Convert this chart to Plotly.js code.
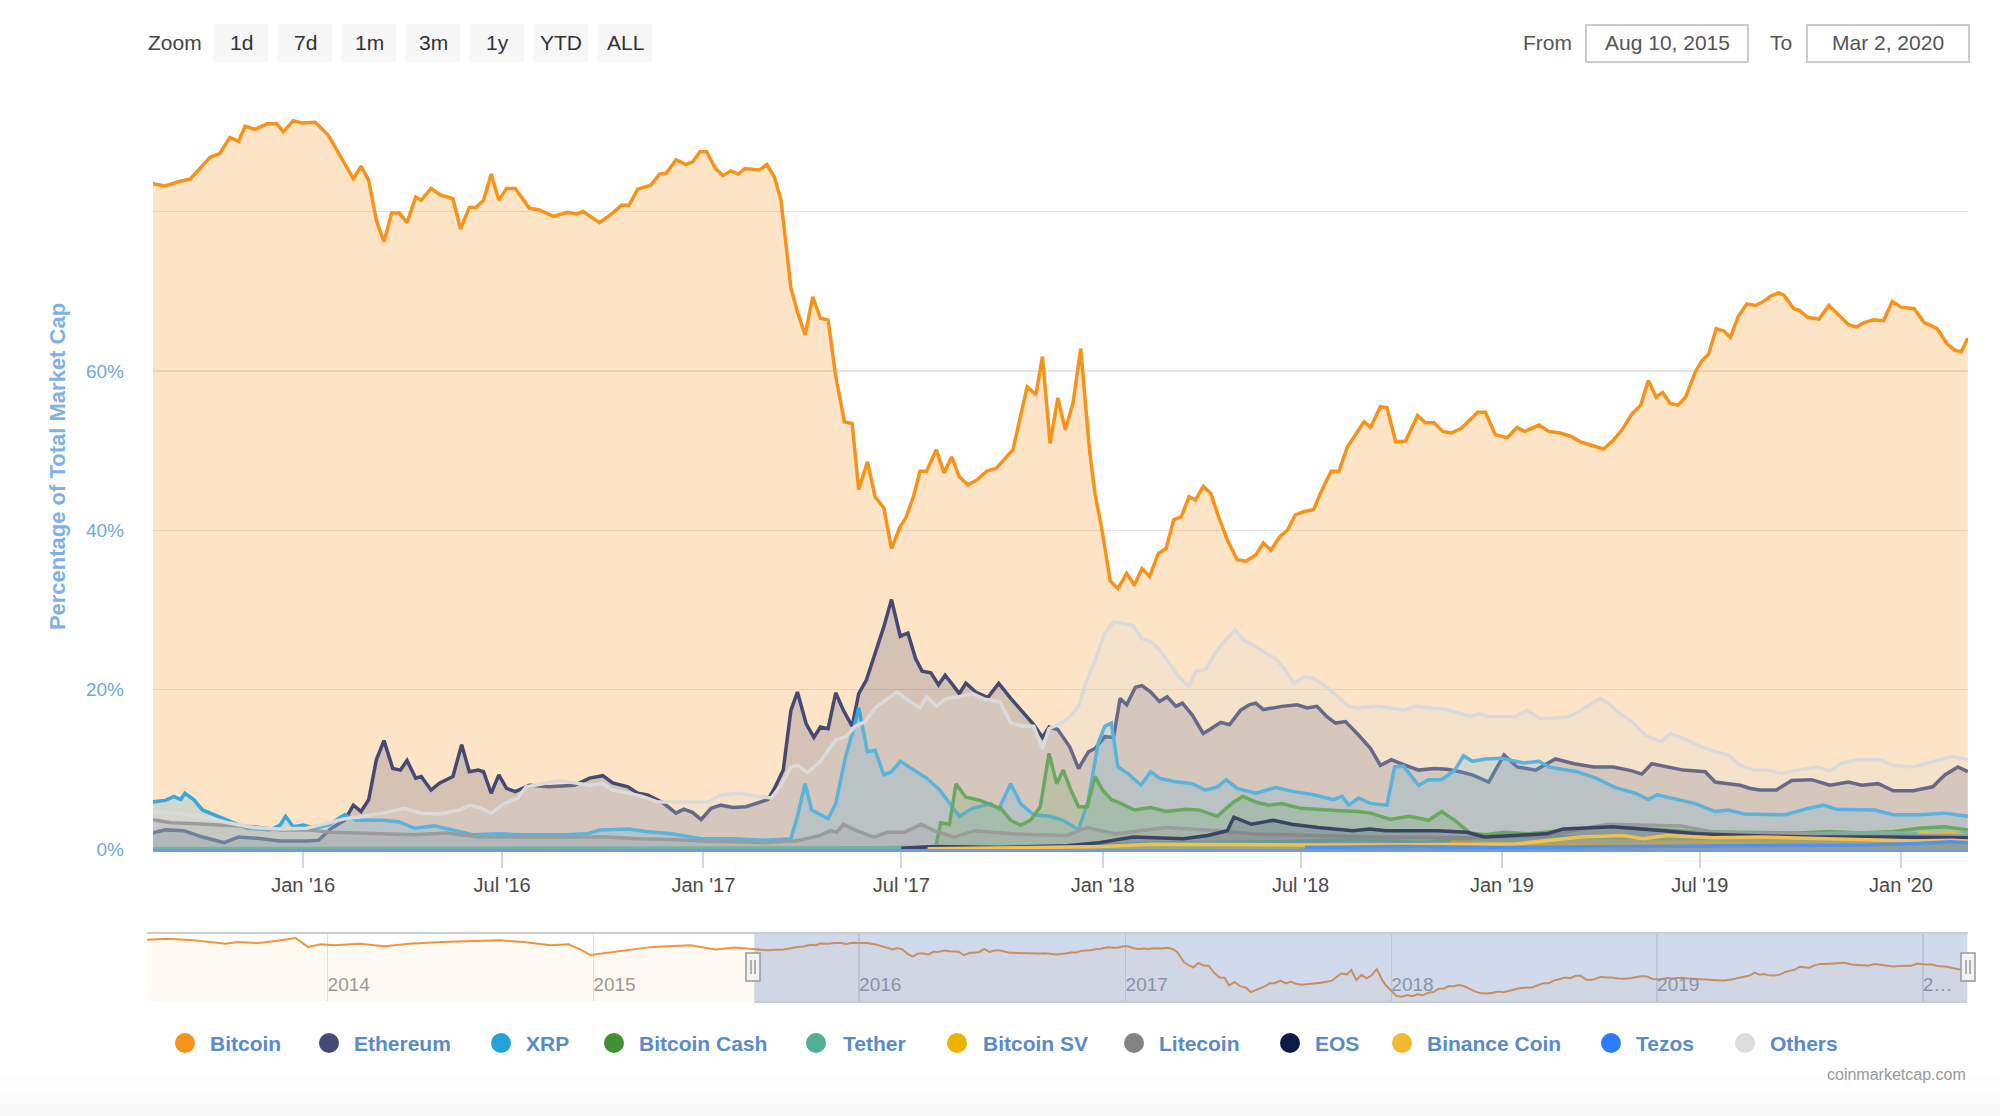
<!DOCTYPE html>
<html>
<head>
<meta charset="utf-8">
<script src="https://cdn.plot.ly/plotly-3.0.1.min.js"></script>
<style>
html,body{margin:0;padding:0;background:#ffffff;}
#chart{width:2000px;height:1116px;}
</style>
</head>
<body>
<div id="chart"></div>
<script>
// ---------------- DATA (percent of total market cap) ----------------
const seriesNames = ['Bitcoin','Ethereum','XRP','Bitcoin Cash','Tether','Bitcoin SV','Litecoin','EOS','Binance Coin','Tezos','Others'];

const btcDates = ['2015-08-16','2015-08-28','2015-09-08','2015-09-20','2015-10-08','2015-10-17','2015-10-26','2015-11-03','2015-11-09','2015-11-18','2015-11-29','2015-12-08','2015-12-14','2015-12-23','2015-12-31',
'2016-01-12','2016-01-24','2016-02-05','2016-02-16','2016-02-23','2016-03-01','2016-03-08','2016-03-15','2016-03-22','2016-03-29','2016-04-05','2016-04-13','2016-04-18','2016-04-27','2016-05-05','2016-05-17','2016-05-24','2016-06-01','2016-06-07','2016-06-14','2016-06-21','2016-06-28','2016-07-05','2016-07-13','2016-07-26','2016-08-04','2016-08-17','2016-08-30','2016-09-07','2016-09-13','2016-09-28','2016-10-10','2016-10-18','2016-10-25','2016-11-02','2016-11-14','2016-11-22','2016-11-28','2016-12-07','2016-12-16','2016-12-22','2016-12-29',
'2017-01-04','2017-01-12','2017-01-19','2017-01-26','2017-02-02','2017-02-08','2017-02-21','2017-02-28','2017-03-07','2017-03-13','2017-03-22','2017-03-28','2017-04-04','2017-04-11','2017-04-18','2017-04-25','2017-05-02','2017-05-10','2017-05-17','2017-05-23','2017-05-31','2017-06-07','2017-06-15','2017-06-22','2017-06-30','2017-07-05','2017-07-12','2017-07-18','2017-07-24','2017-08-02','2017-08-09','2017-08-16','2017-08-23','2017-08-31','2017-09-08','2017-09-17','2017-09-26','2017-10-11','2017-10-24','2017-11-01','2017-11-07','2017-11-14','2017-11-21','2017-11-28','2017-12-05','2017-12-12','2017-12-20','2017-12-25',
'2018-01-01','2018-01-08','2018-01-15','2018-01-23','2018-01-30','2018-02-06','2018-02-13','2018-02-21','2018-02-28','2018-03-07','2018-03-14','2018-03-21','2018-03-27','2018-04-03','2018-04-10','2018-04-17','2018-04-25','2018-05-04','2018-05-12','2018-05-21','2018-05-28','2018-06-04','2018-06-12','2018-06-19','2018-06-26','2018-07-03','2018-07-13','2018-07-20','2018-07-29','2018-08-05','2018-08-13','2018-08-19','2018-08-28','2018-09-03','2018-09-12','2018-09-18','2018-09-26','2018-10-05','2018-10-16','2018-10-23','2018-10-31','2018-11-08','2018-11-16','2018-11-25','2018-12-02','2018-12-10','2018-12-17','2018-12-26',
'2019-01-06','2019-01-15','2019-01-22','2019-02-04','2019-02-13','2019-02-23','2019-03-05','2019-03-14','2019-03-23','2019-04-04','2019-04-13','2019-04-21','2019-04-30','2019-05-08','2019-05-15','2019-05-22','2019-05-28','2019-06-04','2019-06-11','2019-06-18','2019-06-27','2019-07-03','2019-07-09','2019-07-16','2019-07-23','2019-07-29','2019-08-05','2019-08-13','2019-08-21','2019-08-28','2019-09-04','2019-09-11','2019-09-16','2019-09-25','2019-09-30','2019-10-08','2019-10-18','2019-10-27','2019-11-05','2019-11-14','2019-11-21','2019-11-29','2019-12-07','2019-12-16','2019-12-24',
'2020-01-01','2020-01-13','2020-01-22','2020-02-03','2020-02-12','2020-02-19','2020-02-25','2020-03-02'];
const btcValues = [83.5,83.2,83.7,84.1,86.8,87.3,89.3,88.8,90.7,90.3,91.0,91.0,90.0,91.4,91.1,
91.2,89.6,86.8,84.1,85.7,83.9,78.9,76.2,79.8,79.8,78.6,81.8,81.4,82.9,82.1,81.6,77.8,80.5,80.5,81.4,84.7,81.4,82.9,82.9,80.4,80.2,79.4,79.9,79.7,80.0,78.6,79.8,80.8,80.8,82.8,83.3,84.7,84.8,86.5,85.9,86.2,87.5,
87.5,85.4,84.5,85.1,84.7,85.4,85.2,85.9,84.3,81.4,70.4,67.4,64.5,69.3,66.6,66.4,59.3,53.6,53.4,45.1,48.6,44.2,42.8,37.7,40.5,41.5,44.2,47.4,47.4,50.1,47.2,49.2,46.7,45.7,46.3,47.4,47.8,50.1,58.0,57.0,61.8,50.9,56.6,52.6,56.0,62.8,50.1,44.6,
39.6,33.6,32.7,34.6,33.1,35.2,34.2,37.1,37.7,41.3,41.7,44.2,43.8,45.5,44.6,41.7,38.8,36.3,36.1,36.9,38.4,37.5,39.2,40.0,41.9,42.3,42.6,44.9,47.4,47.4,50.5,51.7,53.6,52.9,55.5,55.4,51.1,51.2,54.4,53.5,53.5,52.4,52.2,52.8,53.8,54.8,54.8,52.0,
51.6,52.9,52.4,53.2,52.4,52.2,51.8,51.1,50.7,50.2,51.3,52.6,54.6,55.7,58.8,56.7,57.3,55.9,55.7,56.7,59.9,61.3,62.1,65.3,65.0,64.2,66.8,68.4,68.2,68.7,69.4,69.8,69.5,67.8,67.6,66.7,66.5,68.2,67.0,65.8,65.5,66.1,66.4,66.3,68.7,
68.0,67.8,66.1,65.3,63.4,62.6,62.4,64.1];

// Bitcoin before the selected period (navigator only)
const btcHistoryDates = ['2013-04-28','2013-05-27','2013-07-01','2013-07-27','2013-08-14','2013-08-31','2013-09-27','2013-10-22','2013-11-18','2013-12-05','2013-12-23','2014-01-10','2014-02-14','2014-03-21','2014-04-23','2014-06-07','2014-07-12','2014-08-25','2014-09-28','2014-11-03','2014-11-28','2014-12-16','2014-12-28','2015-01-20','2015-02-15','2015-03-23','2015-05-14','2015-06-18','2015-07-14','2015-08-09'];
const btcHistoryValues = [94.7,95.7,94.0,92.2,90.4,92.2,91.1,93.3,96.5,86.9,89.7,88.7,90.4,87.6,90.4,92.2,93.3,94.0,92.2,88.7,89.7,83.4,78.0,80.5,83.4,86.9,88.7,84.1,86.2,84.1];

const ethDates = ['2015-08-16','2015-08-28','2015-09-14','2015-10-01','2015-10-21','2015-11-03','2015-11-24','2015-12-11','2016-01-04','2016-01-15','2016-01-27','2016-02-08','2016-02-16','2016-02-23','2016-03-01','2016-03-08','2016-03-15','2016-03-23','2016-03-30','2016-04-05','2016-04-13','2016-04-18','2016-04-27','2016-05-05','2016-05-17','2016-05-25','2016-06-01','2016-06-09','2016-06-14','2016-06-21','2016-06-28','2016-07-05','2016-07-13','2016-07-26','2016-08-13','2016-09-05','2016-09-19','2016-10-01','2016-10-10','2016-10-24','2016-11-02','2016-11-11','2016-11-25','2016-12-07','2016-12-14','2016-12-22','2016-12-30',
'2017-01-08','2017-01-17','2017-01-28','2017-02-09','2017-02-21','2017-03-01','2017-03-07','2017-03-15','2017-03-22','2017-03-28','2017-04-05','2017-04-12','2017-04-18','2017-04-25','2017-05-02','2017-05-09','2017-05-17','2017-05-23','2017-05-30','2017-06-07','2017-06-15','2017-06-22','2017-06-30','2017-07-07','2017-07-14','2017-07-20','2017-07-28','2017-08-04','2017-08-10','2017-08-17','2017-08-23','2017-08-29','2017-09-07','2017-09-18','2017-09-28','2017-10-09','2017-10-21','2017-10-30','2017-11-07','2017-11-13','2017-11-21','2017-12-02','2017-12-10','2017-12-19','2017-12-25',
'2018-01-03','2018-01-11','2018-01-17','2018-01-23','2018-01-31','2018-02-06','2018-02-14','2018-02-22','2018-03-01','2018-03-09','2018-03-15','2018-03-24','2018-04-03','2018-04-10','2018-04-19','2018-04-27','2018-05-07','2018-05-15','2018-05-21','2018-05-28','2018-06-14','2018-06-28','2018-07-07','2018-07-16','2018-07-25','2018-08-02','2018-08-11','2018-08-23','2018-09-03','2018-09-12','2018-09-22','2018-10-05','2018-10-17','2018-10-31','2018-11-12','2018-11-24','2018-12-05','2018-12-20',
'2019-01-03','2019-01-15','2019-02-01','2019-02-19','2019-03-08','2019-03-26','2019-04-13','2019-04-30','2019-05-09','2019-05-18','2019-06-01','2019-06-16','2019-07-06','2019-07-15','2019-07-27','2019-08-07','2019-08-16','2019-08-25','2019-09-09','2019-09-23','2019-10-11','2019-10-28','2019-11-14','2019-11-26','2019-12-11','2019-12-25','2020-01-12','2020-01-30','2020-02-10','2020-02-22','2020-03-02'];
const ethValues = [2.0,2.4,2.3,1.5,0.8,1.5,1.3,1.0,1.0,1.1,2.6,3.6,5.5,4.7,6.2,11.2,13.6,10.1,9.9,11.1,8.9,9.1,7.4,8.3,9.1,13.1,9.7,9.9,9.7,7.0,9.3,7.6,7.2,8.0,7.8,8.0,8.9,9.2,8.3,7.8,7.0,6.8,5.8,4.5,5.0,4.6,3.7,
5.1,5.5,5.2,5.3,5.8,6.2,7.6,9.9,17.4,19.7,15.7,14.0,15.3,15.1,19.6,17.4,15.4,19.5,21.2,24.6,27.9,31.3,26.7,27.1,23.9,22.3,22.1,20.6,21.8,20.6,19.5,20.8,19.7,19.0,20.8,18.9,17.0,15.6,14.0,15.3,15.0,12.8,10.1,12.2,12.6,
14.1,14.0,18.9,18.1,20.3,20.5,19.7,18.5,19.1,17.9,18.3,16.8,14.5,15.1,15.9,15.6,17.4,18.1,18.3,17.5,17.9,18.1,17.7,17.9,16.6,15.8,16.0,14.3,12.6,10.5,11.2,10.5,9.9,10.1,10.0,9.7,9.3,8.4,
11.8,10.3,9.9,11.3,10.7,10.3,10.3,9.8,9.4,10.7,10.3,9.9,9.7,8.4,8.2,8.0,7.6,7.4,7.4,8.6,8.7,8.0,8.4,8.0,8.2,7.3,7.3,7.8,9.3,10.3,9.7];

const xrpDates = ['2015-08-16','2015-08-28','2015-09-05','2015-09-11','2015-09-15','2015-09-23','2015-10-01','2015-10-16','2015-10-31','2015-11-11','2015-12-02','2015-12-11','2015-12-16','2015-12-23','2016-01-01','2016-01-12','2016-01-24','2016-02-08','2016-02-19','2016-03-14','2016-03-29','2016-04-12','2016-04-30','2016-05-17','2016-06-04','2016-06-28','2016-07-21','2016-08-26','2016-09-17','2016-09-28','2016-10-25','2016-11-09','2016-12-03','2016-12-30',
'2017-01-29','2017-02-27','2017-03-22','2017-03-28','2017-04-04','2017-04-10','2017-04-25','2017-05-02','2017-05-11','2017-05-18','2017-05-23','2017-05-31','2017-06-07','2017-06-15','2017-06-22','2017-06-30','2017-07-12','2017-07-24','2017-08-05','2017-08-17','2017-08-23','2017-09-04','2017-09-21','2017-09-28','2017-10-09','2017-10-18','2017-10-30','2017-11-14','2017-11-26','2017-12-10','2017-12-19','2017-12-28',
'2018-01-03','2018-01-09','2018-01-15','2018-01-24','2018-02-05','2018-02-14','2018-02-22','2018-03-06','2018-03-24','2018-04-05','2018-04-16','2018-04-24','2018-05-04','2018-05-21','2018-06-08','2018-06-25','2018-07-13','2018-07-31','2018-08-08','2018-08-14','2018-08-23','2018-09-03','2018-09-18','2018-09-25','2018-10-03','2018-10-17','2018-10-26','2018-11-07','2018-11-19','2018-11-27','2018-12-05','2018-12-17',
'2019-01-01','2019-01-10','2019-01-21','2019-02-04','2019-02-13','2019-02-25','2019-03-11','2019-03-28','2019-04-15','2019-05-03','2019-05-15','2019-05-23','2019-06-10','2019-06-27','2019-07-15','2019-07-27','2019-08-11','2019-08-31','2019-09-17','2019-10-08','2019-10-22','2019-11-03','2019-11-20','2019-12-08','2019-12-25','2020-01-17','2020-02-10','2020-03-02'];
const xrpValues = [5.9,6.1,6.6,6.2,7.0,6.2,4.9,4.1,3.3,2.6,2.4,3.0,4.1,2.8,3.0,2.6,3.0,4.3,3.6,3.6,3.4,2.6,2.9,2.4,1.8,1.9,1.8,1.8,1.9,2.4,2.5,2.2,1.9,1.3,
1.3,1.1,1.3,4.1,8.2,4.9,3.8,5.7,11.6,14.9,17.7,12.2,12.4,9.3,9.7,11.0,9.9,8.9,7.4,5.3,4.1,5.1,5.7,5.0,8.2,5.7,4.3,4.1,3.6,2.4,6.2,13.3,
15.4,15.8,10.3,9.5,8.0,9.7,8.9,8.5,8.2,7.4,7.8,8.7,7.6,7.0,7.7,7.2,6.8,6.2,6.6,5.5,6.4,5.7,5.5,10.3,10.4,8.0,8.7,8.7,9.9,11.7,11.0,11.3,
11.4,11.1,10.8,11.0,10.3,10.0,9.7,8.9,7.7,7.0,6.2,6.8,6.2,5.7,4.7,4.9,4.4,4.4,4.3,5.1,5.5,5.0,4.9,4.9,4.3,4.3,4.5,4.1];

const bchDates = ['2017-08-02','2017-08-06','2017-08-14','2017-08-20','2017-08-29','2017-09-11','2017-09-23','2017-09-30','2017-10-09','2017-10-18','2017-10-27','2017-11-05','2017-11-13','2017-11-20','2017-11-26','2017-12-03','2017-12-10','2017-12-18','2017-12-25',
'2018-01-01','2018-01-09','2018-01-18','2018-01-30','2018-02-14','2018-02-28','2018-03-18','2018-03-30','2018-04-16','2018-04-24','2018-05-01','2018-05-09','2018-05-21','2018-06-02','2018-06-14','2018-07-01','2018-07-19','2018-08-06','2018-08-23','2018-09-03','2018-09-21','2018-10-08','2018-10-26','2018-11-07','2018-11-19','2018-12-03','2018-12-17',
'2019-01-03','2019-01-26','2019-03-08','2019-04-13','2019-05-06','2019-05-30','2019-06-22','2019-08-02','2019-08-31','2019-09-28','2019-10-28','2019-11-26','2019-12-25','2020-01-17','2020-02-10','2020-03-02'];
const bchValues = [0.6,3.3,3.1,8.2,6.5,6.1,5.4,5.1,3.6,3.0,3.6,5.3,12.0,8.2,9.9,7.4,5.3,5.3,9.1,
7.4,6.2,5.7,4.9,5.2,4.7,5.0,4.9,4.1,5.1,5.9,6.6,5.9,5.5,5.7,5.1,4.9,4.8,4.7,4.5,3.7,4.1,3.6,4.7,3.6,2.0,1.8,
2.1,1.9,2.4,2.9,2.6,2.4,2.2,2.1,2.1,2.0,2.2,2.0,2.2,2.6,2.8,2.4];

const usdtDates = ['2015-08-16','2016-06-01','2017-01-01','2017-06-01','2017-09-01','2017-12-01','2018-01-15','2018-03-01','2018-06-01','2018-09-01','2018-10-20','2018-12-15','2019-02-01','2019-04-01','2019-06-01','2019-08-01','2019-09-15','2019-11-15','2020-01-01','2020-02-01','2020-03-02'];
const usdtValues = [0.05,0.1,0.1,0.15,0.3,0.4,0.6,0.8,0.9,1.2,0.8,1.5,1.6,1.5,1.3,1.4,1.8,2.0,2.0,1.8,2.0];

const bsvDates = ['2018-11-15','2018-12-01','2019-01-01','2019-02-01','2019-03-01','2019-04-15','2019-05-15','2019-06-15','2019-07-15','2019-08-15','2019-09-15','2019-10-15','2019-11-15','2019-12-15','2020-01-07','2020-01-15','2020-01-20','2020-02-01','2020-02-15','2020-03-02'];
const bsvValues = [0.9,0.8,0.6,0.5,0.5,0.4,0.6,0.8,0.8,0.7,0.6,0.5,0.5,0.4,0.7,1.6,2.1,1.8,2.0,1.7];

const ltcDates = ['2015-08-16','2015-09-02','2015-09-20','2015-10-24','2015-11-17','2015-12-11','2016-01-04','2016-01-27','2016-02-19','2016-03-14','2016-04-12','2016-05-11','2016-06-10','2016-07-09','2016-08-07','2016-09-05','2016-10-04','2016-11-02','2016-12-03','2016-12-30',
'2017-01-28','2017-02-27','2017-03-18','2017-03-27','2017-04-18','2017-04-27','2017-05-03','2017-05-09','2017-05-21','2017-06-06','2017-06-18','2017-07-04','2017-07-19','2017-07-31','2017-08-18','2017-09-06','2017-10-09','2017-11-29','2017-12-18',
'2018-01-13','2018-03-01','2018-04-16','2018-05-17','2018-07-01','2018-09-02','2018-12-03','2019-02-11','2019-04-07','2019-06-14','2019-07-14','2019-09-12','2019-12-13','2020-03-02'];
const ltcValues = [3.7,3.3,3.2,3.0,2.8,2.4,2.4,2.1,2.0,2.0,1.8,2.0,1.5,1.5,1.5,1.6,1.5,1.3,1.2,1.0,
0.9,0.8,1.0,1.0,1.7,2.3,2.1,3.1,2.3,1.5,2.1,2.1,3.1,2.3,1.5,2.3,1.9,1.7,2.7,
1.9,2.7,2.3,1.9,1.7,1.5,1.4,1.7,3.1,2.9,2.1,1.9,1.7,1.7];

const eosDates = ['2017-07-01','2017-08-01','2017-09-27','2017-11-29','2017-12-29','2018-01-29','2018-03-16','2018-04-07','2018-04-25','2018-05-01','2018-05-17','2018-06-06','2018-06-23','2018-07-17','2018-08-18','2018-09-02','2018-09-17','2018-11-03','2018-11-30','2018-12-16','2019-01-12','2019-02-11','2019-02-26','2019-04-12','2019-05-29','2019-06-28','2019-08-13','2019-10-13','2019-12-13','2020-02-13','2020-03-02'];
const eosValues = [0.1,0.3,0.2,0.4,0.8,1.5,1.3,1.7,2.3,4.0,3.1,3.6,3.1,2.7,2.3,2.5,2.3,2.3,2.1,1.5,1.7,1.9,2.5,2.8,2.3,1.9,1.7,1.5,1.5,1.5,1.4];

const bnbDates = ['2017-07-25','2017-10-01','2018-01-01','2018-02-15','2018-05-01','2018-07-01','2018-09-01','2018-11-01','2018-12-15','2019-01-12','2019-03-14','2019-04-22','2019-05-10','2019-06-01','2019-07-13','2019-08-28','2019-10-13','2019-12-13','2020-01-15','2020-02-15','2020-03-02'];
const bnbValues = [0.02,0.1,0.3,0.6,0.5,0.5,0.5,0.6,0.6,0.6,1.5,1.7,1.3,1.7,1.4,1.5,1.3,1.1,1.0,1.1,1.0];

const xtzDates = ['2018-07-05','2018-10-01','2019-01-01','2019-04-01','2019-07-01','2019-10-01','2019-12-01','2020-01-15','2020-02-15','2020-03-02'];
const xtzValues = [0.2,0.3,0.2,0.3,0.4,0.5,0.5,0.7,0.9,0.8];

const othersDates = ['2015-08-16','2015-09-08','2015-10-01','2015-10-24','2015-11-17','2015-12-11','2016-01-04','2016-01-21','2016-02-08','2016-02-25','2016-03-14','2016-04-03','2016-04-18','2016-05-05','2016-05-23','2016-06-02','2016-06-12','2016-06-21','2016-07-03','2016-07-15','2016-07-23','2016-08-07','2016-08-22','2016-09-05','2016-09-20','2016-10-01','2016-10-10','2016-10-25','2016-11-06','2016-11-20','2016-12-07','2016-12-25',
'2017-01-05','2017-01-17','2017-02-03','2017-02-21','2017-03-04','2017-03-13','2017-03-22','2017-03-28','2017-04-06','2017-04-18','2017-05-02','2017-05-11','2017-05-20','2017-05-29','2017-06-07','2017-06-15','2017-06-27','2017-07-07','2017-07-18','2017-07-24','2017-08-02','2017-08-11','2017-08-23','2017-09-04','2017-09-15','2017-09-29','2017-10-09','2017-10-21','2017-10-30','2017-11-07','2017-11-13','2017-11-25','2017-12-02','2017-12-10','2017-12-16','2017-12-25',
'2018-01-03','2018-01-11','2018-01-21','2018-01-29','2018-02-06','2018-02-14','2018-02-22','2018-03-03','2018-03-12','2018-03-21','2018-03-27','2018-04-05','2018-04-13','2018-04-22','2018-05-02','2018-05-10','2018-05-21','2018-05-30','2018-06-08','2018-06-17','2018-06-25','2018-07-04','2018-07-13','2018-07-25','2018-08-02','2018-08-14','2018-08-23','2018-09-06','2018-09-18','2018-10-03','2018-10-14','2018-10-26','2018-11-12','2018-11-24','2018-12-03','2018-12-11','2018-12-20',
'2019-01-01','2019-01-13','2019-01-24','2019-02-04','2019-02-19','2019-03-03','2019-03-14','2019-03-23','2019-04-01','2019-04-10','2019-04-19','2019-04-30','2019-05-12','2019-05-18','2019-05-27','2019-06-04','2019-06-19','2019-07-03','2019-07-15','2019-07-27','2019-08-07','2019-08-19','2019-08-31','2019-09-14','2019-09-28','2019-10-16','2019-10-28','2019-11-08','2019-11-23','2019-12-13','2019-12-25','2020-01-12','2020-01-30','2020-02-16','2020-03-02'];
const othersValues = [4.7,4.5,4.1,3.3,2.7,2.5,2.6,3.2,3.8,4.1,4.5,5.1,4.5,4.4,4.9,5.5,5.1,4.5,5.7,6.4,7.8,8.2,8.6,8.3,8.0,8.2,7.4,7.0,6.6,5.9,5.9,5.9,
5.9,6.8,7.0,6.6,6.4,8.0,10.3,10.5,9.6,11.0,13.7,14.1,15.4,16.0,17.7,18.5,19.7,18.7,17.7,19.1,17.9,18.9,19.1,19.5,18.8,18.5,15.8,15.4,15.4,12.6,15.1,15.9,16.6,17.9,20.6,23.7,
27.1,28.5,28.3,28.0,26.4,26.0,25.0,23.3,21.6,20.4,22.3,22.5,24.4,26.0,27.5,26.2,25.4,24.6,23.9,22.5,20.8,21.6,21.4,20.3,19.3,17.9,17.7,17.9,17.8,17.4,17.9,17.7,17.5,17.0,16.6,17.0,16.6,
16.6,16.6,17.4,16.4,16.4,16.6,17.4,18.2,18.9,18.1,17.0,16.0,14.3,13.9,13.5,14.5,13.7,12.8,12.2,11.8,10.5,9.9,9.9,9.5,9.9,10.3,9.8,10.8,11.2,11.2,10.5,10.3,11.0,11.6,11.2];

const yTickValues = [0,20,40,60,80];
const yTickLabels = ['0%','20%','40%','60%',''];
const xTickValues = ['2016-01-01','2016-07-01','2017-01-01','2017-07-01','2018-01-01','2018-07-01','2019-01-01','2019-07-01','2020-01-01'];
const xTickLabels = ["Jan '16","Jul '16","Jan '17","Jul '17","Jan '18","Jul '18","Jan '19","Jul '19","Jan '20"];
const navTickValues = ['2014-01-01','2015-01-01','2016-01-01','2017-01-01','2018-01-01','2019-01-01','2020-01-01'];
const navTickLabels = ['2014','2015','2016','2017','2018','2019','2…'];
const zoomButtons = ['1d','7d','1m','3m','1y','YTD','ALL'];
const fromDate = 'Aug 10, 2015';
const toDate = 'Mar 2, 2020';
const selectionStart = '2015-08-10';
const selectionEnd = '2020-03-02';

// ---------------- STYLE ----------------
const colors = ['#f7931a','#454a75','#35a9de','#4a9a3c','#50af95','#eab300','#8a8a8a','#101a45','#f3ba2f','#2c7df7','#dadada'];
const legendDotColors = ['#f7931a','#454a75','#23a3dc','#3f8f35','#50af95','#eab300','#838383','#0d1a45','#f3ba2f','#2c7df7','#dddddd'];
const FONT = '"Liberation Sans", Arial, Helvetica, sans-serif';

const W = 2000, H = 1116;
const M = {l:147, r:32, t:84, b:115};
const PW = W - M.l - M.r, PH = H - M.t - M.b;
const px = X => (X - M.l) / PW;
const py = Y => (H - M.b - Y) / PH;

function rgba(hex, a) {
  const n = parseInt(hex.slice(1), 16);
  return 'rgba(' + ((n >> 16) & 255) + ',' + ((n >> 8) & 255) + ',' + (n & 255) + ',' + a + ')';
}

const seriesData = [
  [btcDates, btcValues], [ethDates, ethValues], [xrpDates, xrpValues], [bchDates, bchValues],
  [usdtDates, usdtValues], [bsvDates, bsvValues], [ltcDates, ltcValues], [eosDates, eosValues],
  [bnbDates, bnbValues], [xtzDates, xtzValues], [othersDates, othersValues]
];

const traces = seriesData.map((d, i) => ({
  type: 'scatter', mode: 'lines', name: seriesNames[i],
  x: d[0], y: d[1], xaxis: 'x', yaxis: 'y',
  line: {color: colors[i], width: 3.5, shape: 'linear'},
  fill: 'tozeroy', fillcolor: rgba(colors[i], i === 0 ? 0.25 : 0.22),
  hoverinfo: 'skip', showlegend: false
}));

// navigator series
traces.push({
  type: 'scatter', mode: 'lines', name: 'Bitcoin (navigator)',
  x: btcHistoryDates.concat(btcDates), y: btcHistoryValues.concat(btcValues),
  xaxis: 'x2', yaxis: 'y2',
  line: {color: '#f0953a', width: 2},
  fill: 'tozeroy', fillcolor: 'rgba(247,147,26,0.05)',
  hoverinfo: 'skip', showlegend: false
});

const shapes = [];
const annotations = [];

// bottom faint gradient band
[[1078, 1092, '#fdfdfd'], [1092, 1104, '#fbfbfb'], [1104, 1116, '#f8f8f8']].forEach(b => {
  shapes.push({type:'rect', xref:'paper', yref:'paper', x0:px(0), x1:px(2000), y0:py(b[1]), y1:py(b[0]), fillcolor:b[2], line:{width:0}, layer:'below'});
});

// Zoom buttons
annotations.push({xref:'paper', yref:'paper', x:px(175), y:py(43), text:'Zoom', showarrow:false, xanchor:'center', yanchor:'middle', font:{family:FONT, size:21, color:'#444'}});
zoomButtons.forEach((b, i) => {
  const x0 = 214 + i * 64;
  shapes.push({type:'rect', xref:'paper', yref:'paper', x0:px(x0), x1:px(x0 + 54), y0:py(62), y1:py(24), fillcolor:'#f7f7f7', line:{width:0}});
  annotations.push({xref:'paper', yref:'paper', x:px(x0 + 27), y:py(43), text:b, showarrow:false, xanchor:'center', yanchor:'middle', font:{family:FONT, size:21, color:'#333'}});
});

// From / To boxes
annotations.push({xref:'paper', yref:'paper', x:px(1547), y:py(43), text:'From', showarrow:false, xanchor:'center', yanchor:'middle', font:{family:FONT, size:21, color:'#555'}});
shapes.push({type:'rect', xref:'paper', yref:'paper', x0:px(1586), x1:px(1748), y0:py(62), y1:py(25), fillcolor:'#ffffff', line:{color:'#cccccc', width:2}});
annotations.push({xref:'paper', yref:'paper', x:px(1667), y:py(43), text:fromDate, showarrow:false, xanchor:'center', yanchor:'middle', font:{family:FONT, size:21, color:'#555'}});
annotations.push({xref:'paper', yref:'paper', x:px(1781), y:py(43), text:'To', showarrow:false, xanchor:'center', yanchor:'middle', font:{family:FONT, size:21, color:'#555'}});
shapes.push({type:'rect', xref:'paper', yref:'paper', x0:px(1807), x1:px(1969), y0:py(62), y1:py(25), fillcolor:'#ffffff', line:{color:'#cccccc', width:2}});
annotations.push({xref:'paper', yref:'paper', x:px(1888), y:py(43), text:toDate, showarrow:false, xanchor:'center', yanchor:'middle', font:{family:FONT, size:21, color:'#555'}});

// Navigator decorations
shapes.push({type:'rect', xref:'x2', yref:'y2 domain', x0:selectionStart, x1:selectionEnd, y0:0, y1:1, fillcolor:'rgba(102,133,194,0.3)', line:{width:0}, layer:'above'});
shapes.push({type:'line', xref:'paper', yref:'paper', x0:px(147), x1:px(1968), y0:py(933), y1:py(933), line:{color:'#cccccc', width:2}});
shapes.push({type:'line', xref:'x2', yref:'paper', x0:selectionStart, x1:selectionEnd, y0:py(1002), y1:py(1002), line:{color:'#cccccc', width:2}});
[753, 1968].forEach(X => {
  shapes.push({type:'rect', xref:'paper', yref:'paper', xsizemode:'pixel', xanchor:px(X), x0:-7, x1:7, y0:py(981), y1:py(953), fillcolor:'#f2f2f2', line:{color:'#999999', width:1.5}});
  [-2, 2].forEach(dx => {
    shapes.push({type:'line', xref:'paper', yref:'paper', xsizemode:'pixel', xanchor:px(X), x0:dx, x1:dx, y0:py(974), y1:py(960), line:{color:'#999999', width:1.5}});
  });
});

// Legend (drawn as circles + real text)
const legendDotX = [185, 329, 501, 614, 816, 957, 1134, 1290, 1402, 1611, 1745];
const legendTextX = [208, 352, 524, 637, 841, 981, 1157, 1313, 1425, 1634, 1768];
seriesNames.forEach((name, i) => {
  shapes.push({type:'circle', xref:'paper', yref:'paper', xsizemode:'pixel', ysizemode:'pixel', xanchor:px(legendDotX[i]), yanchor:py(1043), x0:-10, x1:10, y0:-10, y1:10, fillcolor:legendDotColors[i], line:{width:0}});
  annotations.push({xref:'paper', yref:'paper', x:px(legendTextX[i]), y:py(1043), text:'<b>' + name + '</b>', showarrow:false, xanchor:'left', yanchor:'middle', font:{family:FONT, size:21, color:'#5b8bc6'}});
});

// watermark
annotations.push({xref:'paper', yref:'paper', x:px(1968), y:py(1074), text:'coinmarketcap.com', showarrow:false, xanchor:'right', yanchor:'middle', font:{family:FONT, size:16, color:'#999999'}});

const layout = {
  width: W, height: H,
  margin: M,
  paper_bgcolor: '#ffffff', plot_bgcolor: 'rgba(0,0,0,0)',
  showlegend: false,
  font: {family: FONT},
  xaxis: {
    type: 'date', domain: [px(153), 1], anchor: 'y',
    range: ['2015-08-16 19:00', '2020-03-02 05:00'],
    tickmode: 'array', tickvals: xTickValues, ticktext: xTickLabels,
    ticks: 'outside', ticklen: 16, tickwidth: 2, tickcolor: '#ccd6eb',
    showline: true, linecolor: '#6b9be6', linewidth: 3,
    showgrid: false, zeroline: false,
    tickfont: {family: FONT, size: 20, color: '#4a4a4a'},
    fixedrange: true
  },
  yaxis: {
    domain: [py(849), 1], anchor: 'x',
    range: [0, 96],
    tickmode: 'array', tickvals: yTickValues, ticktext: yTickLabels,
    showgrid: true, gridcolor: '#e6e6e6', gridwidth: 1.5,
    zeroline: false, showline: false, ticks: '',
    ticklabelstandoff: 28,
    tickfont: {family: FONT, size: 19, color: '#6fa8dc'},
    title: {text: '<b>Percentage of Total Market Cap</b>', font: {family: FONT, size: 22, color: '#7fb1e6'}, standoff: 14},
    fixedrange: true
  },
  xaxis2: {
    type: 'date', domain: [0, 1], anchor: 'y2',
    range: ['2013-04-28', '2020-03-03'],
    tickmode: 'array', tickvals: navTickValues, ticktext: navTickLabels,
    ticklabelposition: 'inside right',
    ticks: '', showline: false, zeroline: false,
    showgrid: true, gridcolor: '#e2e2e2', gridwidth: 1.5,
    tickfont: {family: FONT, size: 19, color: '#999999'},
    fixedrange: true
  },
  yaxis2: {
    domain: [0, py(933)], anchor: 'x2',
    range: [28, 102],
    showgrid: false, zeroline: false, showticklabels: false, ticks: '', showline: false,
    fixedrange: true
  },
  shapes: shapes,
  annotations: annotations
};

Plotly.newPlot('chart', traces, layout, {staticPlot: true, displayModeBar: false});
</script>
</body>
</html>
